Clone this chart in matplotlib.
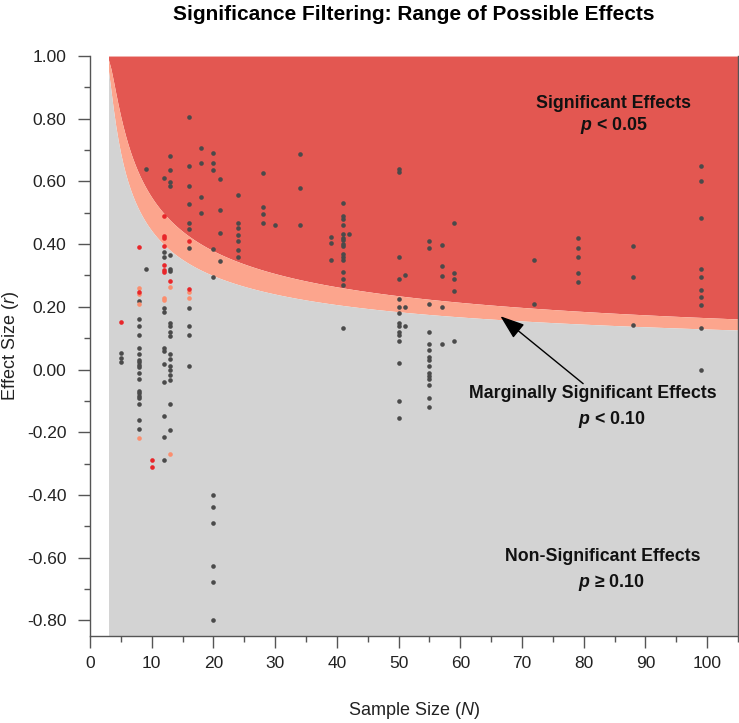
import numpy as np
import matplotlib
matplotlib.use('Agg')
import matplotlib.pyplot as plt
from math import lgamma, pi, sqrt

plt.rcParams['font.family'] = ['Liberation Sans', 'DejaVu Sans']
plt.rcParams['mathtext.fontset'] = 'custom'
plt.rcParams['mathtext.rm'] = 'Liberation Sans'
plt.rcParams['mathtext.it'] = 'Liberation Sans:italic'
plt.rcParams['mathtext.bf'] = 'Liberation Sans:bold'
plt.rcParams['mathtext.bfit'] = 'Liberation Sans:italic:bold'

# studies that were not flagged
gray_n = ([5] * 3 + [8] * 19 + [9] * 2 + [12] * 12 + [13] * 19 + [16] * 11 + [18] * 4
          + [20] * 11 + [21] * 4 + [24] * 7 + [28] * 4 + [30] + [34] * 3 + [39] * 3
          + [41] * 16 + [42] + [50] * 15 + [51] * 3 + [55] * 15 + [57] * 5 + [59] * 5
          + [72] * 2 + [79] * 5 + [88] * 3 + [99] * 10)
gray_r = [0.054, 0.037, 0.024,
          0.22, 0.16, 0.14, 0.11, 0.07, 0.05, 0.03, 0.023, 0.015, 0.008, -0.01, -0.03,
          -0.07, -0.076, -0.084, -0.091, -0.11, -0.16, -0.19,
          0.64, 0.32,
          0.61, 0.374, 0.36, 0.196, 0.185, 0.07, 0.058, 0.019, -0.041, -0.147, -0.215, -0.288,
          0.681, 0.638, 0.599, 0.586, 0.364, 0.32, 0.314, 0.149, 0.138, 0.12, 0.108, 0.051,
          0.035, 0.011, -0.003, -0.018, -0.033, -0.109, -0.194,
          0.805, 0.65, 0.585, 0.528, 0.468, 0.447, 0.389, 0.196, 0.14, 0.11, 0.01,
          0.708, 0.66, 0.549, 0.498,
          0.69, 0.66, 0.638, 0.384, 0.296, -0.399, -0.438, -0.488, -0.627, -0.678, -0.80,
          0.607, 0.509, 0.434, 0.346,
          0.558, 0.469, 0.451, 0.43, 0.409, 0.38, 0.36,
          0.628, 0.518, 0.497, 0.467,
          0.46,
          0.689, 0.579, 0.46,
          0.423, 0.405, 0.348,
          0.53, 0.491, 0.48, 0.46, 0.431, 0.421, 0.412, 0.402, 0.393, 0.369, 0.36, 0.349,
          0.31, 0.289, 0.27, 0.134,
          0.431,
          0.64, 0.63, 0.36, 0.289, 0.225, 0.2, 0.179, 0.149, 0.138, 0.12, 0.109, 0.09, 0.02,
          -0.1, -0.156,
          0.3, 0.2, 0.14,
          0.409, 0.389, 0.209, 0.12, 0.08, 0.061, 0.039, 0.03, 0.011, -0.011, -0.021, -0.03,
          -0.05, -0.09, -0.12,
          0.398, 0.329, 0.299, 0.2, 0.08,
          0.469, 0.309, 0.289, 0.25, 0.09,
          0.349, 0.209,
          0.419, 0.389, 0.359, 0.309, 0.279,
          0.393, 0.296, 0.141,
          0.65, 0.6, 0.484, 0.322, 0.296, 0.255, 0.232, 0.207, 0.131, 0.0]

red_n = [5, 8, 8, 10, 10, 12, 12, 12, 12, 12, 12, 12, 13, 16, 16]
red_r = [0.151, 0.39, 0.248, -0.289, -0.311, 0.49, 0.427, 0.418, 0.395, 0.335, 0.316, 0.31,
         0.281, 0.411, 0.258]

salmon_n = [8, 8, 8, 8, 12, 12, 13, 13, 16, 16]
salmon_r = [0.259, 0.240, 0.209, -0.219, 0.229, 0.221, 0.264, -0.268, 0.247, 0.227]

x_ticks = [0, 10, 20, 30, 40, 50, 60, 70, 80, 90, 100]
y_ticks = [-0.8, -0.6, -0.4, -0.2, 0.0, 0.2, 0.4, 0.6, 0.8, 1.0]
y_labels = ['-0.80', '-0.60', '-0.40', '-0.20', '0.00', '0.20', '0.40', '0.60', '0.80', '1.00']


def t_crit(p, df):
    # upper one-tailed critical t, by bisection on a numerically integrated cdf
    c = np.exp(lgamma((df + 1) / 2) - lgamma(df / 2)) / sqrt(df * pi)
    lo, hi = 0.0, 50.0
    for _ in range(50):
        mid = (lo + hi) / 2
        x = np.linspace(0, mid, 3000)
        area = np.trapezoid(c * (1 + x ** 2 / df) ** (-(df + 1) / 2), x)
        if 0.5 - area > p:
            lo = mid
        else:
            hi = mid
    return (lo + hi) / 2


def r_crit(p, n):
    df = n - 2
    t = t_crit(p, df)
    return t / np.sqrt(df + t ** 2)


n_grid = np.linspace(3, 105, 260)
r05 = np.array([r_crit(0.05, n) for n in n_grid])
r10 = np.array([r_crit(0.10, n) for n in n_grid])

fig = plt.figure(figsize=(7.39, 7.23), dpi=100)
ax = fig.add_axes([0.1218, 0.1203, 0.8769, 0.8022])

y_lo, y_hi = -0.85, 1.0
ax.fill_between(n_grid, r05, y_hi, color='#e35751', lw=0, zorder=1)
ax.fill_between(n_grid, r10, r05, color='#fca58d', lw=0, zorder=1)
ax.fill_between(n_grid, y_lo, r10, color='#d3d3d3', lw=0, zorder=1)

ax.scatter(gray_n, gray_r, s=11, color='#4a4a4a', lw=0, zorder=3)
ax.scatter(salmon_n, salmon_r, s=11, color='#fb8e6e', lw=0, zorder=3)
ax.scatter(red_n, red_r, s=11, color='#e8262a', lw=0, zorder=3)

ax.set_xlim(0, 105)
ax.set_ylim(y_lo, y_hi)
ax.set_xticks(x_ticks)
ax.set_xticks(np.arange(5, 106, 10), minor=True)
ax.set_yticks(y_ticks)
ax.set_yticklabels(y_labels)
ax.set_yticks(np.arange(-0.7, 1.0, 0.2), minor=True)
ax.tick_params(which='major', length=8.5, width=1, color='#555555', labelsize=12.5,
               labelcolor='#222222')
ax.tick_params(which='minor', length=4, width=1, color='#555555')
ax.tick_params(axis='y', which='major', pad=8.4)
ax.tick_params(axis='x', which='major', pad=6)

ax.spines['top'].set_visible(False)
for side in ['left', 'bottom', 'right']:
    ax.spines[side].set_color('#555555')
    ax.spines[side].set_linewidth(1)

ax.set_xlabel('Sample Size ($N$)', fontsize=13, color='#222222')
ax.set_ylabel('Effect Size ($r$)', fontsize=13, color='#222222')
ax.xaxis.set_label_coords(0.5, -0.111)
ax.yaxis.set_label_coords(-0.1065, 0.5)

fig.text(0.560, 0.9806, 'Significance Filtering: Range of Possible Effects',
         ha='center', va='center', fontsize=15, weight='bold')

txt = dict(ha='center', va='center', fontsize=12.8, weight='bold', color='#111111')
ax.text(84.8, 0.85, 'Significant Effects', **txt)
ax.text(84.8, 0.78, r'$\mathbfit{p}$ < 0.05', **txt)
ax.text(81.5, -0.076, 'Marginally Significant Effects', **txt)
ax.text(84.5, -0.158, r'$\mathbfit{p}$ < 0.10', **txt)
ax.text(83.0, -0.596, 'Non-Significant Effects', **txt)
ax.text(84.5, -0.678, r'$\mathbfit{p}$ ≥ 0.10', **txt)

ax.annotate('', xy=(66.5, 0.17), xytext=(79.9, -0.045),
            arrowprops=dict(arrowstyle='-|>,head_length=0.75,head_width=0.27',
                            color='black', lw=1, mutation_scale=20, shrinkA=0, shrinkB=0),
            zorder=4)

fig.savefig('out.png', dpi=100)
